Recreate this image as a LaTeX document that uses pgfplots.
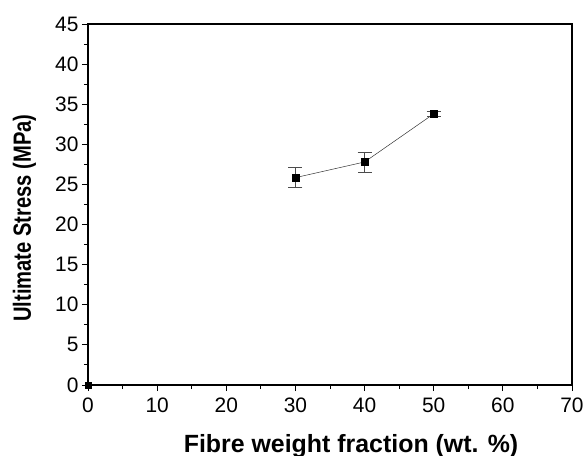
\documentclass[border=0pt]{standalone}
\usepackage{pgfplots}
\pgfplotsset{compat=1.18}
\usepackage{fontspec}
\setmainfont{Liberation Sans}
\usetikzlibrary{calc}

\begin{document}
\begin{tikzpicture}
\begin{axis}[
  name=ax,
  scale only axis,
  width=484bp, height=361bp,
  xmin=0, xmax=70, ymin=0, ymax=45,
  xtick={0,10,...,70}, ytick={0,5,...,45},
  minor x tick num=1, minor y tick num=1,
  tick align=outside,
  xtick pos=bottom, ytick pos=left,
  major tick length=6bp, minor tick length=4bp,
  axis line style={line width=1.2pt},
  every tick/.style={black, line width=0.9pt},
  tick label style={font=\fontsize{21}{21}\selectfont},
  /pgf/number format/assume math mode=true,
  xticklabel style={yshift=-3bp},
  xlabel={\textbf{Fibre weight fraction (wt. \%)}},
  ylabel={\textbf{Ultimate Stress (MPa)}},
  label style={font=\fontsize{25}{25}\selectfont},
  xlabel style={at={(0.5434,0)}, anchor=base, yshift=-67bp},
  ylabel style={at={(-0.1312,0.4626)}, anchor=center, xscale=0.81},
  clip=false,
]
\addplot[black!80, line width=0.5pt, mark=square*, mark size=3.5bp,
  mark options={black, solid},
  error bars/.cd, y dir=both, y explicit,
  error bar style={black!70, line width=0.8pt},
  error mark options={rotate=90, mark size=7bp, black!70, line width=0.8pt}]
  coordinates {(30,25.85) +- (0,1.27) (40,27.8) +- (0,1.25) (50,33.8) +- (0,0.3)};
\addplot[only marks, mark=square*, mark size=3bp, black] coordinates {(0,0)};
\end{axis}
\pgfresetboundingbox
\path[use as bounding box] ($(ax.south west)+(-88bp,-71bp)$) rectangle ($(ax.south west)+(496bp,385bp)$);
\end{tikzpicture}
\end{document}
